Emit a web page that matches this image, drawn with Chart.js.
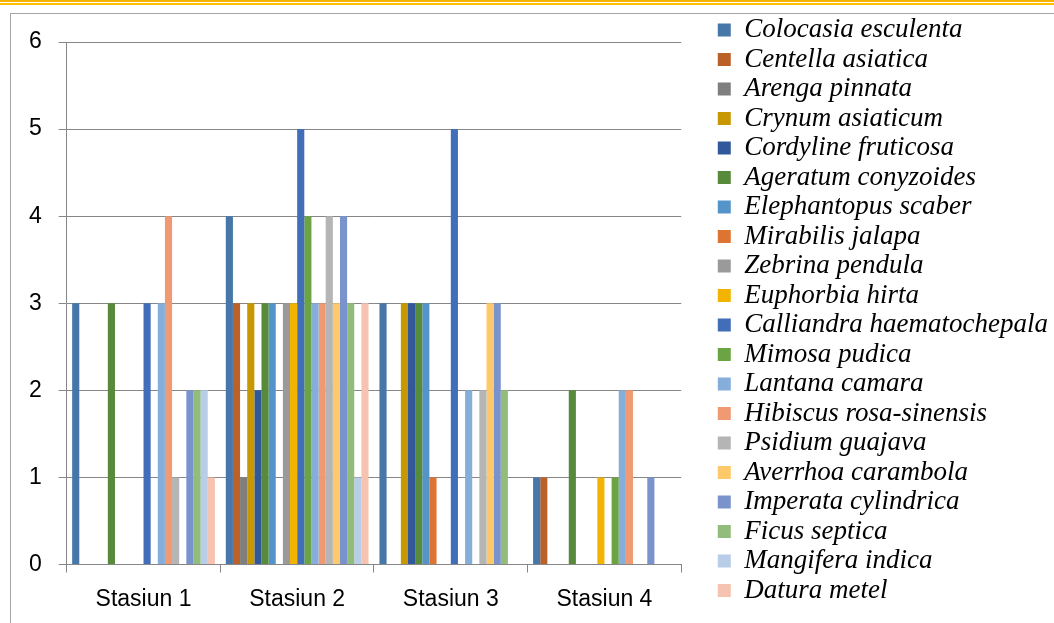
<!DOCTYPE html>
<html>
<head>
<meta charset="utf-8">
<title>Jumlah spesies per stasiun</title>
<script src="https://cdn.jsdelivr.net/npm/chart.js@4"></script>
<style>
  html, body { margin: 0; padding: 0; background: #fff; }
  #wrap { position: relative; width: 1054px; height: 623px; overflow: hidden; }
  .rule { position: absolute; left: 0; width: 1054px; height: 2px; }
  #frame { position: absolute; left: 10px; top: 13px; width: 1100px; height: 700px;
           border-top: 1px solid #a6a6a6; border-left: 1px solid #a6a6a6; }
  canvas { position: absolute; left: 0; top: 0; }
</style>
</head>
<body>
<div id="wrap">
  <div class="rule" style="top:0;background:#f3b400"></div>
  <div class="rule" style="top:3px;background:#ffc000"></div>
  <div id="frame"></div>
  <canvas id="chart" width="1054" height="623"></canvas>
</div>
<script>
"use strict";

// categories (x axis)
const stations = ["Stasiun 1", "Stasiun 2", "Stasiun 3", "Stasiun 4"];

// species, in legend order
const species = [
  "Colocasia esculenta", "Centella asiatica", "Arenga pinnata", "Crynum asiaticum",
  "Cordyline fruticosa", "Ageratum conyzoides", "Elephantopus scaber", "Mirabilis jalapa",
  "Zebrina pendula", "Euphorbia hirta", "Calliandra haematochepala", "Mimosa pudica",
  "Lantana camara", "Hibiscus rosa-sinensis", "Psidium guajava", "Averrhoa carambola",
  "Imperata cylindrica", "Ficus septica", "Mangifera indica", "Datura metel"
];

// counts per station, one value per species (same order as above)
const stasiun1 = [3, 0, 0, 0, 0, 3, 0, 0, 0, 0, 3, 0, 3, 4, 1, 0, 2, 2, 2, 1];
const stasiun2 = [4, 3, 1, 3, 2, 3, 3, 0, 3, 3, 5, 4, 3, 3, 4, 3, 4, 3, 1, 3];
const stasiun3 = [3, 0, 0, 3, 3, 3, 3, 1, 0, 0, 5, 0, 2, 0, 2, 3, 3, 2, 0, 0];
const stasiun4 = [1, 1, 0, 0, 0, 2, 0, 0, 0, 1, 0, 1, 2, 2, 0, 0, 1, 0, 0, 0];

// y axis ticks
const yTicks = [0, 1, 2, 3, 4, 5, 6];

const colors = [
  "#4677a8", "#bb6127", "#7f7f7f", "#c89800",
  "#31589a", "#578a3a", "#5594c9", "#de7431",
  "#9a9a9a", "#f2b400", "#426db8", "#6ba543",
  "#85aedb", "#ef9a73", "#b5b5b5", "#fec96a",
  "#7a93cd", "#92bc7c", "#b7cde8", "#f5c3af"
];

const byStation = [stasiun1, stasiun2, stasiun3, stasiun4];
const datasets = species.map((name, i) => ({
  label: name,
  data: byStation.map(s => s[i]),
  backgroundColor: colors[i],
  borderWidth: 0,
  categoryPercentage: 0.929,
  barPercentage: 1.0,
  xAxisID: "x",
  yAxisID: "y",
}));

const axisGray = "#868686";
const tickFont = { family: "'Liberation Sans', Arial, sans-serif", size: 23 };

new Chart(document.getElementById("chart"), {
  type: "bar",
  data: { labels: stations, datasets },
  options: {
    responsive: false,
    animation: false,
    devicePixelRatio: 1,
    layout: { padding: { top: 14, right: -4, bottom: 5, left: 0 } },
    plugins: {
      tooltip: { enabled: false },
      legend: {
        position: "right",
        align: "start",
        maxWidth: 400,
        labels: {
          boxWidth: 13,
          boxHeight: 13,
          padding: 2.5,
          color: "#000",
          font: { family: "'Liberation Serif', 'Times New Roman', serif", style: "italic", size: 27 },
        },
      },
    },
    scales: {
      x: {
        position: "bottom",
        grid: { display: true, drawOnChartArea: false, color: axisGray, tickLength: 8, offset: true },
        border: { display: true, color: axisGray },
        ticks: { color: "#000", font: tickFont, padding: 13 },
        afterFit: s => { s.height = 53.5; },
      },
      // spacer above the plot area
      xTop: {
        type: "linear", position: "top", display: true,
        grid: { display: false }, border: { display: false }, ticks: { display: false },
        afterFit: s => { s.height = 28; },
      },
      y: {
        position: "left",
        min: 0, max: 6,
        afterBuildTicks: s => { s.ticks = yTicks.map(v => ({ value: v })); },
        grid: { color: axisGray, tickLength: 8 },
        border: { display: true, color: axisGray },
        ticks: { color: "#000", font: tickFont, padding: 17 },
        afterFit: s => { s.width = 66.7; },
      },
      // spacer between plot area and legend
      yGap: {
        type: "linear", position: "right", display: true,
        grid: { display: false }, border: { display: false }, ticks: { display: false },
        afterFit: s => { s.width = 34; },
      },
    },
  },
});
</script>
</body>
</html>
